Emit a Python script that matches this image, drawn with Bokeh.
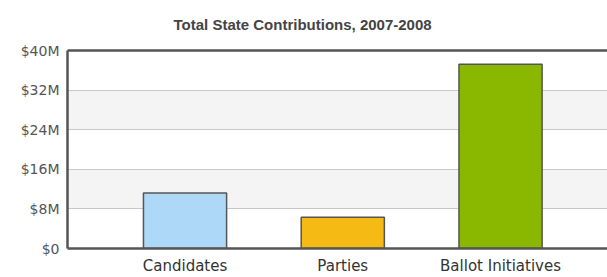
from bokeh.plotting import figure
from bokeh.models import Range1d, FixedTicker, LinearAxis, ColumnDataSource
from bokeh.embed import file_html
from bokeh.resources import INLINE

title_text = "Total State Contributions, 2007-2008"
categories = ["Candidates", "Parties", "Ballot Initiatives"]
values_musd = [11.2, 6.3, 37.2]
bar_colors = ["#ADD8F8", "#F5BA14", "#8AB800"]
y_ticks = [0, 8, 16, 24, 32, 40]
y_tick_labels = ["$0", "$8M", "$16M", "$24M", "$32M", "$40M"]

positions = list(range(len(categories)))
src = ColumnDataSource(dict(x=positions, top=values_musd, color=bar_colors))

p = figure(width=607, height=277, output_backend="svg", toolbar_location=None,
           x_range=Range1d(-0.745, 2.678), y_range=Range1d(0, 40),
           min_border_left=67, min_border_right=0, min_border_bottom=27,
           min_border_top=50)

p.title.text = title_text
p.title.align = "left"
p.title.offset = 106
p.title.vertical_align = "top"
p.title.text_font = "Liberation Sans"
p.title.text_font_style = "bold"
p.title.text_font_size = "15px"
p.title.text_color = "#444444"
p.title.standoff = 31

p.vbar(x="x", top="top", width=0.527, bottom=0, source=src,
       fill_color="color", line_color="#555555", line_width=1.5)

p.outline_line_color = None
p.background_fill_color = "white"

xa = p.below[0]
ya = p.left[0]

# top border line of the plot box
top_ax = LinearAxis(major_tick_in=0, major_tick_out=0, minor_tick_in=0, minor_tick_out=0,
                    major_label_text_font_size="0px", axis_line_width=2.5,
                    axis_line_color="#555555", ticker=FixedTicker(ticks=[]),
                    major_label_standoff=0)
p.add_layout(top_ax, "above")

xa.ticker = FixedTicker(ticks=positions)
xa.major_label_overrides = {i: c for i, c in zip(positions, categories)}
xa.major_tick_in = 0
xa.major_tick_out = 0
xa.minor_tick_in = 0
xa.minor_tick_out = 0
xa.axis_line_width = 2.5
xa.axis_line_color = "#555555"
xa.major_label_text_font = "DejaVu Sans"
xa.major_label_text_font_size = "15px"
xa.major_label_text_color = "#333333"
xa.major_label_standoff = 8

ya.ticker = FixedTicker(ticks=y_ticks)
ya.major_label_overrides = {t: l for t, l in zip(y_ticks, y_tick_labels)}
ya.major_tick_in = 0
ya.major_tick_out = 0
ya.minor_tick_in = 0
ya.minor_tick_out = 0
ya.axis_line_width = 2.5
ya.axis_line_color = "#555555"
ya.major_label_text_font = "DejaVu Sans"
ya.major_label_text_font_size = "14px"
ya.major_label_text_color = "#555555"
ya.major_label_standoff = 8

p.xgrid.grid_line_color = None
p.ygrid.grid_line_color = "#C8C8C8"
p.ygrid.grid_line_width = 1
p.ygrid.band_fill_color = "#F4F4F4"
p.ygrid.band_fill_alpha = 1

open("out.html", "w").write(file_html(p, INLINE))
